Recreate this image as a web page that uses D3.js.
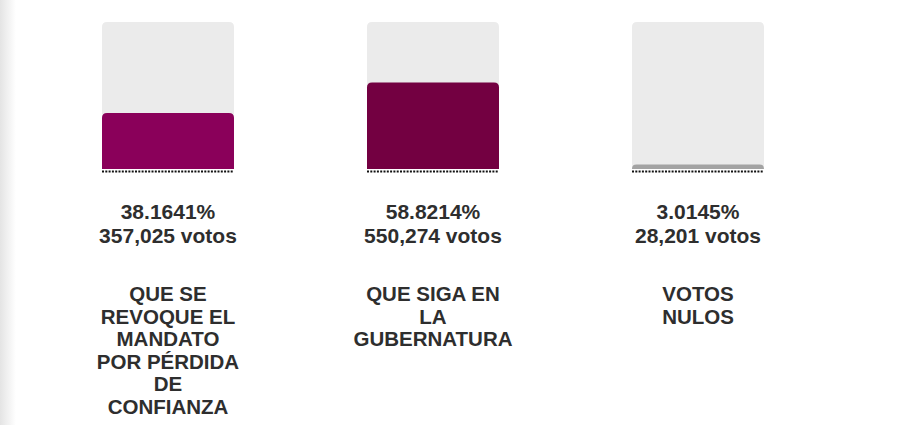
<!DOCTYPE html>
<html>
<head>
<meta charset="utf-8">
<script src="https://cdn.jsdelivr.net/npm/d3@7"></script>
<style>
  html, body { margin: 0; padding: 0; background: #fff; }
  body { width: 920px; height: 425px; overflow: hidden; position: relative; }
  .shade {
    position: absolute; left: 0; top: 0; width: 16px; height: 425px;
    background: linear-gradient(to right, #e4e4e4, rgba(255,255,255,0));
  }
  svg { position: absolute; left: 0; top: 0; }
  text { font-family: "Liberation Sans", Arial, sans-serif; font-weight: bold; fill: #2e2e2e; }
</style>
</head>
<body>
<div class="shade"></div>
<script>
// opciones de la consulta
var categorias = ['QUE SE REVOQUE EL MANDATO POR PÉRDIDA DE CONFIANZA', 'QUE SIGA EN LA GUBERNATURA', 'VOTOS NULOS'];
var porcentajes = [38.1641, 58.8214, 3.0145];
var votos = [357025, 550274, 28201];
var colores = ['#8a005a', '#730041', '#a3a3a3'];

var width = 920, height = 425;
var svg = d3.select('body').append('svg').attr('width', width).attr('height', height);

var x = d3.scaleBand()
  .domain(categorias)
  .range([102, 764])
  .paddingInner(0.5019)
  .paddingOuter(0);

var y = d3.scaleLinear().domain([0, 100]).range([169, 22]);

// rectangle with rounded top corners only
var topRounded = function(x0, y0, w, h, r) {
  r = Math.min(r, h, w / 2);
  return 'M' + x0 + ',' + (y0 + h) +
    'V' + (y0 + r) +
    'Q' + x0 + ',' + y0 + ' ' + (x0 + r) + ',' + y0 +
    'H' + (x0 + w - r) +
    'Q' + (x0 + w) + ',' + y0 + ' ' + (x0 + w) + ',' + (y0 + r) +
    'V' + (y0 + h) + 'Z';
};

var data = categorias.map(function(c, i) {
  return { cat: c, pct: porcentajes[i], votos: votos[i], color: colores[i] };
});

var g = svg.selectAll('g.opcion').data(data).enter().append('g').attr('class', 'opcion');

g.append('path')
  .attr('fill', '#ebebeb')
  .attr('d', function(d) {
    return topRounded(x(d.cat), y(100), x.bandwidth(), y(0) - y(100), 5);
  });

g.append('path')
  .attr('fill', function(d) { return d.color; })
  .attr('d', function(d) {
    return topRounded(x(d.cat), y(d.pct), x.bandwidth(), y(0) - y(d.pct), 5);
  });

g.append('line')
  .attr('x1', function(d) { return x(d.cat); })
  .attr('x2', function(d) { return x(d.cat) + x.bandwidth(); })
  .attr('y1', y(0) + 2.5)
  .attr('y2', y(0) + 2.5)
  .attr('stroke', '#111')
  .attr('stroke-width', 2)
  .attr('stroke-dasharray', '2,1.3');

var fmt = d3.format(',');

g.append('text')
  .attr('x', function(d) { return x(d.cat) + x.bandwidth() / 2; })
  .attr('y', 219)
  .attr('text-anchor', 'middle')
  .style('font-size', '21px')
  .text(function(d) { return d.pct.toFixed(4) + '%'; });

g.append('text')
  .attr('x', function(d) { return x(d.cat) + x.bandwidth() / 2; })
  .attr('y', 243)
  .attr('text-anchor', 'middle')
  .style('font-size', '21px')
  .text(function(d) { return fmt(d.votos) + ' votos'; });

// wrapped category labels
var wrapWidth = 146, lineH = 22.6;
g.append('text')
  .attr('text-anchor', 'middle')
  .style('font-size', '20.5px')
  .each(function(d) {
    var t = d3.select(this);
    var cx = x(d.cat) + x.bandwidth() / 2;
    var words = d.cat.split(' ');
    var lines = [], line = [];
    var probe = t.append('tspan');
    words.forEach(function(w) {
      var test = line.concat([w]).join(' ');
      probe.text(test);
      if (probe.node().getComputedTextLength() > wrapWidth && line.length) {
        lines.push(line.join(' '));
        line = [w];
      } else {
        line.push(w);
      }
    });
    if (line.length) lines.push(line.join(' '));
    probe.remove();
    lines.forEach(function(l, i) {
      t.append('tspan').attr('x', cx).attr('y', 301 + i * lineH).text(l);
    });
  });
</script>
</body>
</html>
